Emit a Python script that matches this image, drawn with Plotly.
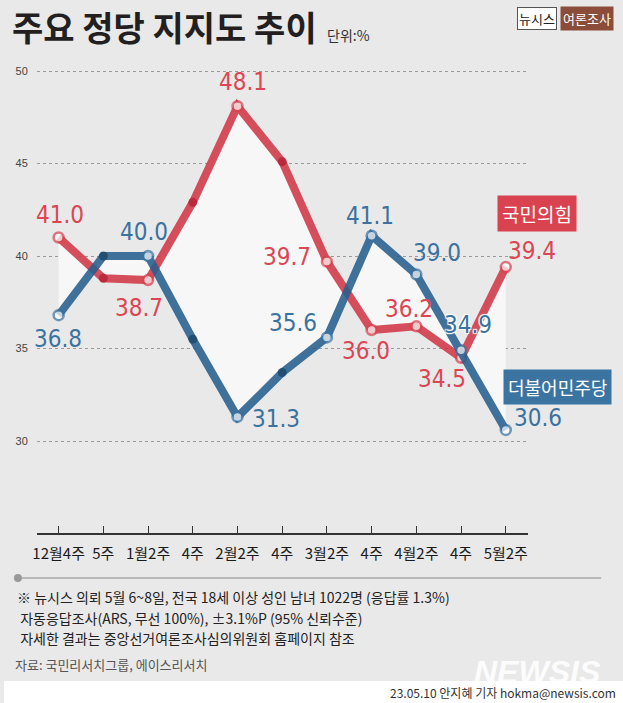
import plotly.graph_objects as go

W, H = 623, 703

# ---------------- data ----------------
weeks = ["12월4주", "5주", "1월2주", "4주", "2월2주", "4주", "3월2주", "4주", "4월2주", "4주", "5월2주"]
ppp_values = [41.0, 38.8, 38.7, 42.9, 48.1, 45.1, 39.7, 36.0, 36.2, 34.5, 39.4]   # 국민의힘
dem_values = [36.8, 40.0, 40.0, 35.5, 31.3, 33.7, 35.6, 41.1, 39.0, 34.9, 30.6]   # 더불어민주당
labeled = [True, False, True, False, True, False, True, True, True, True, True]
y_ticks = [30, 35, 40, 45, 50]

# ---------------- style ----------------
BG = "#e9e9e9"
RED = "#d6434f"
RED_LINE = "rgba(207,55,70,0.88)"
RED_DARK = "#b31a2f"
BLUE = "#3a72a0"
BLUE_LINE = "rgba(38,95,142,0.88)"
BLUE_DARK = "#15405f"
KR = "Noto Sans CJK KR, Noto Sans, sans-serif"
NUM = "Liberation Sans Narrow, DejaVu Sans Condensed, Arial Narrow, Liberation Sans, sans-serif"
NUM_SIZE = 24

red_off = [(1, -23), None, (-9, 28), None, (6, -24), None, (-40, -5), (-6, 21), (-7, -17), (-19, 21), (26, -16)]
blue_off = [(-1, 24), None, (-4, -24), None, (39, 2), None, (-34, -14), (-2, -20), (21, -22), (7, -25), (32, -12)]

def px(x):
    return x / W

def py(y):
    return 1 - y / H

x_idx = list(range(len(weeks)))

fig = go.Figure()

# fill between the two lines
fig.add_trace(go.Scatter(x=x_idx, y=dem_values, mode="lines", line=dict(width=0),
                         hoverinfo="skip", showlegend=False))
fig.add_trace(go.Scatter(x=x_idx, y=ppp_values, mode="lines", line=dict(width=0),
                         fill="tonexty", fillcolor="#f7f7f7", hoverinfo="skip", showlegend=False))

def series(vals, line_col, col, dark):
    return go.Scatter(
        x=x_idx, y=vals, mode="lines+markers",
        line=dict(color=line_col, width=8),
        marker=dict(
            size=[10 if l else 9 for l in labeled],
            color=["white" if l else dark for l in labeled],
            line=dict(color=col, width=[2.5 if l else 0 for l in labeled]),
        ),
        showlegend=False, hoverinfo="skip",
    )

fig.add_trace(series(ppp_values, RED_LINE, RED, RED_DARK))
fig.add_trace(series(dem_values, BLUE_LINE, BLUE, BLUE_DARK))

ann = []
for i, v in enumerate(ppp_values):
    if labeled[i]:
        dx, dy = red_off[i]
        ann.append(dict(x=i, y=v, xref="x", yref="y", text=f"{v:.1f}", showarrow=False,
                        xanchor="center", yanchor="middle",
                        xshift=dx, yshift=-dy, font=dict(family=NUM, size=NUM_SIZE, color="#dc4652")))
for i, v in enumerate(dem_values):
    if labeled[i]:
        dx, dy = blue_off[i]
        f = dict(family=NUM, size=NUM_SIZE, color=BLUE)
        if i == 9:
            f["shadow"] = "1px 1px 1px white, -1px -1px 1px white, 1px -1px 1px white, -1px 1px 1px white"
        ann.append(dict(x=i, y=v, xref="x", yref="y", text=f"{v:.1f}", showarrow=False,
                        xanchor="center", yanchor="middle",
                        xshift=dx, yshift=-dy, font=f))

def paper_text(x, y, text, font, xanchor="center", **kw):
    d = dict(x=px(x), y=py(y), xref="paper", yref="paper", text=text, showarrow=False,
             xanchor=xanchor, yanchor="middle", font=font)
    d.update(kw)
    return d

# legend boxes
ann.append(paper_text(536, 213, "국민의힘", dict(family=KR, size=19, color="white"),
                      bgcolor="#d9434f", borderpad=4))
ann.append(paper_text(557, 387, "더불어민주당", dict(family=KR, size=18, color="white"),
                      bgcolor="#3c74a1", borderpad=4))

# title
ann.append(paper_text(6, 26, "<b>주요 정당 지지도 추이</b>", dict(family=KR, size=34, color="#231f20"),
                      xanchor="left"))
ann.append(paper_text(323, 35, "단위:%", dict(family=KR, size=14, color="#333"), xanchor="left"))

# badge
ann.append(paper_text(536, 19, "뉴시스", dict(family=KR, size=13, color="#222"),
                      bgcolor="white", bordercolor="#555", borderwidth=1, borderpad=1))
ann.append(paper_text(587, 19, "여론조사", dict(family=KR, size=13, color="white"),
                      bgcolor="#8b4c3a", borderpad=2))

# notes
notes = [
    "※ 뉴시스 의뢰 5월 6~8일, 전국 18세 이상 성인 남녀 1022명 (응답률 1.3%)",
    " 자동응답조사(ARS, 무선 100%), ±3.1%P (95% 신뢰수준)",
    " 자세한 결과는 중앙선거여론조사심의위원회 홈페이지 참조",
]
for k, t in enumerate(notes):
    ann.append(paper_text(11, 597 + 20.5 * k, t, dict(family=KR, size=14, color="#222"), xanchor="left"))
ann.append(paper_text(9, 664, "자료: 국민리서치그룹, 에이스리서치", dict(family=KR, size=13, color="#555"),
                      xanchor="left"))

# watermark + footer
ann.append(paper_text(537, 672, "<b><i>NEWSIS</i></b>",
                      dict(family="Liberation Sans, Arial, sans-serif", size=32, color="rgba(255,255,255,0.9)")))
ann.append(paper_text(618, 692, "23.05.10 안지혜 기자 hokma@newsis.com",
                      dict(family=KR, size=12, color="#333"), xanchor="right"))

shapes = [
    dict(type="rect", xref="paper", yref="paper", x0=0, x1=1, y0=0, y1=py(681),
         fillcolor="white", line=dict(width=0), layer="above"),
    dict(type="line", xref="paper", yref="paper", x0=px(14), x1=px(601), y0=py(578), y1=py(578),
         line=dict(color="#aaaaaa", width=1.5)),
    dict(type="circle", xref="paper", yref="paper", x0=px(10), x1=px(18), y0=py(574), y1=py(582),
         fillcolor="#999999", line=dict(width=0)),
]

# axes geometry: x index 0 -> 55px, 10 -> 505px ; y 50 -> 71px, 30 -> 441px
xl, xr = 33, 527
x_scale = 45.0
yt, yb = 60, 533
y_scale = 18.5

fig.update_layout(
    width=W, height=H,
    margin=dict(l=0, r=0, t=0, b=0),
    paper_bgcolor=BG, plot_bgcolor=BG,
    showlegend=False,
    annotations=ann, shapes=shapes,
    xaxis=dict(
        domain=[px(xl), px(xr)],
        range=[-(55 - xl) / x_scale, 10 + (xr - 505) / x_scale],
        tickmode="array", tickvals=x_idx, ticktext=weeks,
        ticks="inside", ticklen=7, tickwidth=1.3, tickcolor="#333",
        showline=True, linecolor="#333", linewidth=1.5,
        showgrid=False, zeroline=False,
        tickfont=dict(family=KR, size=15, color="#1a1a1a"),
        ticklabelstandoff=6, fixedrange=True,
    ),
    yaxis=dict(
        domain=[py(yb), py(yt)],
        range=[30 - (yb - 441) / y_scale, 50 + (71 - yt) / y_scale],
        tickmode="array", tickvals=y_ticks, ticktext=[str(v) for v in y_ticks],
        showgrid=True, gridcolor="#9a9a9a", gridwidth=1, griddash="dot",
        zeroline=False, showline=False, ticks="",
        tickfont=dict(family="Liberation Sans, Arial, sans-serif", size=11, color="#444"),
        ticklabelstandoff=8, fixedrange=True,
    ),
)

fig.write_html(
    "out.html",
    config={"displayModeBar": False},
    post_script="document.body.style.margin='0';document.body.style.overflow='hidden';",
)
